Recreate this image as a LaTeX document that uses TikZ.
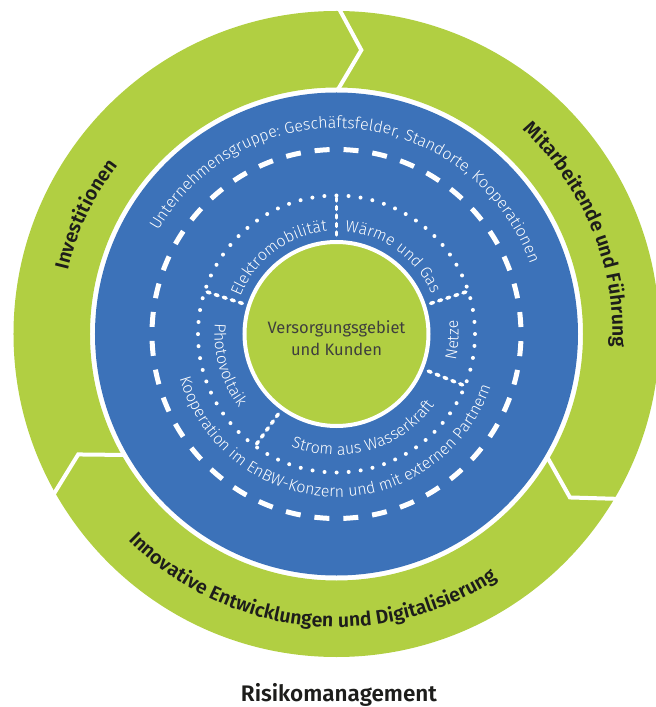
\documentclass[tikz,border=0pt]{standalone}
\usepackage{fontspec}
\setmainfont{Fira Sans}
\newfontfamily\lightfont{Fira Sans Light}
\newfontfamily\semifont{Fira Sans SemiBold}
\usetikzlibrary{decorations.text}

\definecolor{ringgreen}{RGB}{177,207,66}
\definecolor{discblue}{RGB}{60,114,185}
\definecolor{darktext}{RGB}{29,29,27}

\tikzset{
  ring label/.style={decorate,decoration={text along path,text align=center,
      text color=darktext,text={|\semifont\fontsize{19.5}{22}\selectfont|#1}}},
  disc label/.style={decorate,decoration={text along path,text align=center,
      text color=white,text={|\lightfont\fontsize{16}{19}\selectfont|#1}}},
}

\begin{document}
\begin{tikzpicture}[x=1pt,y=1pt]

  \useasboundingbox (-336.5,-373) rectangle (319.5,334);

  % green ring, cut in three by white chevrons
  \fill[ringgreen,even odd rule] (0,0) circle (323) (0,0) circle (246.5);
  \foreach \a in {90,-30,210}{
    \draw[white,line width=4] (\a:242) -- ({\a-5}:285) -- (\a:330);
  }

  \fill[discblue] (0,0) circle (241.5);

  % dashed and dotted rings
  \draw[white,line width=5,dash pattern=on 15pt off 13.98pt,dash phase=22pt] (0,0) circle (184.5);
  \draw[white,line width=4,line cap=round,dash pattern=on 0pt off 12.09pt] (0,0) circle (138.5);
  \foreach \a in {90,18,-22,234,162}{
    \draw[white,line width=3.5,line cap=round,dash pattern=on 3pt off 5.5pt] (\a:99) -- (\a:139);
  }

  \draw[white,line width=4,fill=ringgreen] (0,0) circle (92);
  \node[align=center,text=darktext!85,font=\fontsize{16.5}{22.5}\selectfont] at (0,-4) (center_label) {Versorgungsgebiet\\und Kunden};

  % outer ring texts
  \path[ring label={Investitionen}] (214.5:276) arc[start angle=214.5,end angle=94.5,radius=276];
  \path[ring label={Mitarbeitende und Führung}] (82.5:276) arc[start angle=82.5,end angle=-37.5,radius=276];
  \path[ring label={Innovative Entwicklungen und Digitalisierung}] (204:293) arc[start angle=204,end angle=324,radius=293];

  % texts on the blue disc
  \path[disc label={Unternehmensgruppe: Geschäftsfelder, Standorte, Kooperationen}] (175:206) arc[start angle=175,end angle=-5,radius=206];
  \path[disc label={Kooperation im EnBW-Konzern und mit externen Partnern}] (178.5:163) arc[start angle=178.5,end angle=358.5,radius=163];

  \path[disc label={Elektromobilität}] (172:103) arc[start angle=172,end angle=82,radius=103];
  \path[disc label={Wärme und Gas}] (99:103) arc[start angle=99,end angle=9,radius=103];
  \path[disc label={Netze}] (-33:122) arc[start angle=-33,end angle=27,radius=122];
  \path[disc label={Strom aus Wasserkraft}] (-134:121) arc[start angle=-134,end angle=-14,radius=121];
  \path[disc label={Photovoltaik}] (156:122) arc[start angle=156,end angle=236,radius=122];

  \node[text=darktext,font=\semifont\fontsize{22.5}{26}\selectfont] at (2.5,-361) (risk_label) {Risikomanagement};
\end{tikzpicture}
\end{document}
